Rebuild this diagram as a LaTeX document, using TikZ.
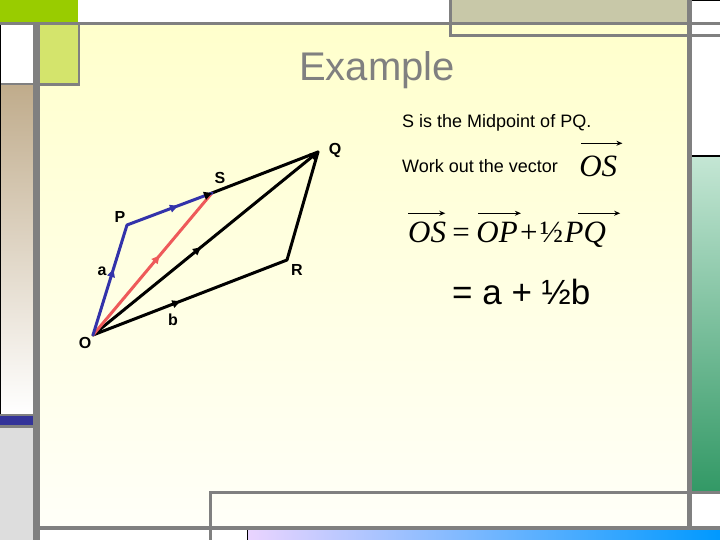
\documentclass[tikz,border=0pt]{standalone}
\usepackage{fontspec}
\setmainfont{Liberation Sans}
\newfontfamily\timesfont{Liberation Serif}
\usetikzlibrary{positioning,calc,arrows.meta,decorations.markings}
\pgfdeclarelayer{background}
\pgfsetlayers{background,main}

\definecolor{framegray}{HTML}{808080}
\definecolor{slidetop}{HTML}{FFFFCC}
\definecolor{slidebot}{HTML}{FFFFF8}
\definecolor{topgreen}{HTML}{99CC00}
\definecolor{lightgreen}{HTML}{D4E46C}
\definecolor{tanbox}{HTML}{C8C8A8}
\definecolor{tanleft}{HTML}{C0AC8C}
\definecolor{leftblue}{HTML}{333399}
\definecolor{leftgray}{HTML}{DDDDDD}
\definecolor{rgreentop}{HTML}{C4E6D4}
\definecolor{rgreenbot}{HTML}{339966}
\definecolor{barleft}{HTML}{EAD4FF}
\definecolor{barright}{HTML}{0099FF}
\definecolor{vecblue}{HTML}{3333AA}
\definecolor{vecred}{HTML}{EE5A5A}

\begin{document}
\begin{tikzpicture}[x=1pt,y=-1pt,
	vecline/.style={
	  line width=3pt,
	  line cap=round,
	  line join=round
	},
	bluev/.style={vecline,draw=vecblue},
	redv/.style={vecline,draw=vecred},
	blackv/.style={vecline,draw=black},
	midarrow/.style={
	  postaction={decorate,decoration={markings,
	    mark=at position #1 with {\arrow{Triangle[length=8pt,width=7.5pt]}}}}
	},
	endmark/.style={
	  postaction={decorate,decoration={markings,
	    mark=at position 1 with {\arrow[black]{Triangle[length=8pt,width=8pt]}}}}
	},
	ptlab/.style={font=\bfseries\fontsize{16}{18}\selectfont,inner sep=0pt},
	txt/.style={font=\fontsize{18}{21}\selectfont,inner sep=0pt},
	eqn/.style={font=\timesfont\fontsize{31}{35}\selectfont,inner sep=0pt},
	vecterm/.style={eqn,font=\timesfont\itshape\fontsize{31}{35}\selectfont},
	overarrow/.style={line width=1.3pt,-{Stealth[length=6pt,width=5pt,inset=2pt]}},
	frame/.style={fill=framegray,draw=none}]

	\useasboundingbox (0,0) rectangle (720,540);

	% points of the figure
	\coordinate (O) at (93,335);
	\coordinate (P) at (127,225);
	\coordinate (S) at (212,193);
	\coordinate (Q) at (318,152);
	\coordinate (R) at (287,260);

	\node[font=\fontsize{40}{48}\selectfont,text=framegray,anchor=base] (Title) at (377,81) {Example};

	\draw[blackv,midarrow=0.45] (O) -- (R);
	\draw[blackv] (R) -- (Q);
	\draw[blackv,midarrow=0.48,endmark] (O) -- (Q);
	\draw[blackv] (S) -- (Q);
	\draw[redv,midarrow=0.56] (O) -- (S);
	\draw[bluev,midarrow=0.6] (O) -- (P);
	\draw[bluev,midarrow=0.6,endmark] (P) -- (S);

	\node[ptlab] (labO) at (85,343) {O};
	\node[ptlab] (labP) at (120,217) {P};
	\node[ptlab] (labS) at (220,178) {S};
	\node[ptlab] (labQ) at (335,150) {Q};
	\node[ptlab] (labR) at (297,270) {R};
	\node[ptlab] (laba) at (102,271) {a};
	\node[ptlab] (labb) at (173,320) {b};

	% text on the right
	\node[txt,anchor=base west] (Given) at (402,128) {S is the Midpoint of PQ.};
	\node[txt,below=45pt of Given.base west,anchor=base west] (Task) {Work out the vector};
	\node[vecterm,right=21pt of Task.base east,anchor=base west,yshift=-4pt] (TaskOS) {OS};

	\node[vecterm,below=70pt of Task.base west,anchor=base west,xshift=6pt] (EqOS) {OS};
	\node[eqn,right=6pt of EqOS.base east,anchor=base west] (EqSign) {=};
	\node[eqn,right=6pt of EqSign.base east,anchor=base west] (EqOP) {\itshape OP};
	\node[eqn,right=2pt of EqOP.base east,anchor=base west] (EqPlus) {+};
	\node[eqn,right=2pt of EqPlus.base east,anchor=base west] (EqHalf) {½};
	\node[vecterm,right=1pt of EqHalf.base east,anchor=base west] (EqPQ) {PQ};

	\draw[overarrow] ([xshift=2pt,yshift=13pt]TaskOS.north west) -- ([xshift=5pt,yshift=13pt]TaskOS.north east);
	\draw[overarrow] ([yshift=9pt]EqOS.north west) -- ([xshift=-1pt,yshift=9pt]EqOS.north east);
	\draw[overarrow] ([xshift=2pt,yshift=9pt]EqOP.north west) -- ([xshift=3pt,yshift=9pt]EqOP.north east);
	\draw[overarrow] ([xshift=14pt,yshift=9pt]EqPQ.north west) -- ([xshift=14pt,yshift=9pt]EqPQ.north east);

	\node[font=\fontsize{35}{40}\selectfont,inner sep=0pt,below=61pt of EqOS.base west,anchor=base west,xshift=44pt] (Result) {= a + ½b};

	\begin{pgfonlayer}{background}
	\fill[white] (0,0) rectangle (720,540);
	\shade[top color=slidetop,bottom color=slidebot] (40,25) rectangle (687,526);
	% top left corner
	\fill[topgreen] (0,0) rectangle (78,22);
	\fill[lightgreen] (40,25) rectangle (78,83);
	\fill[frame] (0,22) rectangle (720,25);
	\fill[frame] (78,25) rectangle (80,86);
	\fill[frame] (0,83) rectangle (80,86);
	% top right box
	\fill[tanbox] (452,0) rectangle (687,22);
	\fill[frame] (449,0) rectangle (452,37);
	\fill[frame] (449,34) rectangle (720,37);
	\draw[black,line width=1pt] (692,0.5) -- (720,0.5);
	% left strip
	\shade[top color=tanleft,bottom color=white] (0,86) rectangle (33,414);
	\fill[frame] (0,414) rectangle (33,416);
	\fill[leftblue] (0,416) rectangle (33,425);
	\fill[frame] (0,425) rectangle (33,428);
	\fill[leftgray] (0,428) rectangle (33,540);
	\draw[black,line width=1pt] (0.5,25) -- (0.5,414);
	\fill[frame] (33,22) rectangle (40,540);
	% right strip
	\shade[top color=rgreentop,bottom color=rgreenbot] (692,157) rectangle (720,490);
	\draw[black,line width=1.5pt] (692,156) -- (720,156);
	\fill[frame] (687,0) rectangle (692,530);
	% bottom
	\fill[frame] (209,491) rectangle (720,494);
	\fill[frame] (209,491) rectangle (212,540);
	\fill[frame] (40,526) rectangle (720,530);
	\shade[left color=barleft,right color=barright] (247,530) rectangle (720,540);
	\draw[black,line width=1pt] (247,530) -- (247,540);
	\end{pgfonlayer}
\end{tikzpicture}
\end{document}
